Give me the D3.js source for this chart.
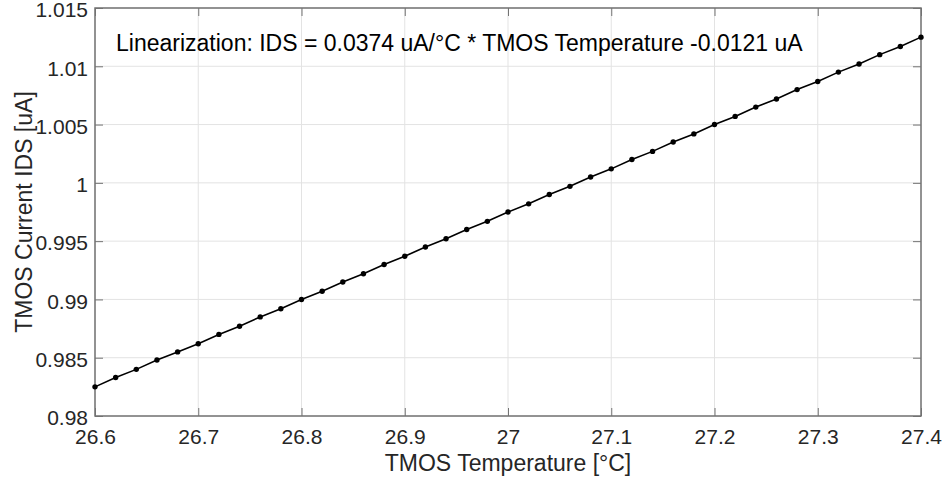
<!DOCTYPE html>
<html>
<head>
<meta charset="utf-8">
<script src="https://cdn.jsdelivr.net/npm/d3@7"></script>
<style>
  html, body { margin: 0; padding: 0; background: #fff; }
  svg { display: block; font-family: "Liberation Sans", Arial, Helvetica, sans-serif; }
</style>
</head>
<body>
<svg id="chart" width="945" height="484"></svg>
<script>
// Data
const temperature = [
  26.60, 26.62, 26.64, 26.66, 26.68, 26.70, 26.72, 26.74, 26.76, 26.78,
  26.80, 26.82, 26.84, 26.86, 26.88, 26.90, 26.92, 26.94, 26.96, 26.98,
  27.00, 27.02, 27.04, 27.06, 27.08, 27.10, 27.12, 27.14, 27.16, 27.18,
  27.20, 27.22, 27.24, 27.26, 27.28, 27.30, 27.32, 27.34, 27.36, 27.38,
  27.40
];
const currentIDS = [
  0.9825, 0.9833, 0.9840, 0.9848, 0.9855, 0.9862, 0.9870, 0.9877, 0.9885, 0.9892,
  0.9900, 0.9907, 0.9915, 0.9922, 0.9930, 0.9937, 0.9945, 0.9952, 0.9960, 0.9967,
  0.9975, 0.9982, 0.9990, 0.9997, 1.0005, 1.0012, 1.0020, 1.0027, 1.0035, 1.0042,
  1.0050, 1.0057, 1.0065, 1.0072, 1.0080, 1.0087, 1.0095, 1.0102, 1.0110, 1.0117,
  1.0125
];
const xTicks = [26.6, 26.7, 26.8, 26.9, 27.0, 27.1, 27.2, 27.3, 27.4];
const xTickLabels = ["26.6", "26.7", "26.8", "26.9", "27", "27.1", "27.2", "27.3", "27.4"];
const yTicks = [0.98, 0.985, 0.99, 0.995, 1.0, 1.005, 1.01, 1.015];
const yTickLabels = ["0.98", "0.985", "0.99", "0.995", "1", "1.005", "1.01", "1.015"];
const xLabel = "TMOS Temperature [°C]";
const yLabel = "TMOS Current IDS [uA]";
const annotation = "Linearization: IDS = 0.0374 uA/°C * TMOS Temperature -0.0121 uA";

const svg = d3.select("#chart");
const margin = { left: 95, top: 8, right: 24, bottom: 68 };
const W = 945, H = 484;
const innerW = W - margin.left - margin.right;
const innerH = H - margin.top - margin.bottom;

const x = d3.scaleLinear().domain([26.6, 27.4]).range([0, innerW]);
const y = d3.scaleLinear().domain([0.98, 1.015]).range([innerH, 0]);

const g = svg.append("g").attr("transform", `translate(${margin.left},${margin.top})`);

// Grid
g.append("g").selectAll("line").data(xTicks).join("line")
  .attr("x1", d => x(d)).attr("x2", d => x(d))
  .attr("y1", 0).attr("y2", innerH)
  .attr("stroke", "#e3e3e3").attr("stroke-width", 1);
g.append("g").selectAll("line").data(yTicks).join("line")
  .attr("y1", d => y(d)).attr("y2", d => y(d))
  .attr("x1", 0).attr("x2", innerW)
  .attr("stroke", "#e3e3e3").attr("stroke-width", 1);

const axisColor = "#262626";
const boxColor = "#737373";
const tickFont = "21px";
const fontFam = "'Liberation Sans', Arial, sans-serif";

// Bottom axis
const xAxis = d3.axisBottom(x).tickValues(xTicks).tickFormat((d, i) => xTickLabels[i])
  .tickSizeInner(-8).tickSizeOuter(0).tickPadding(13);
const gx = g.append("g").attr("transform", `translate(0,${innerH})`).call(xAxis);
gx.select(".domain").remove();
gx.selectAll(".tick line").attr("stroke", boxColor);
gx.selectAll(".tick text").attr("fill", axisColor).style("font-size", tickFont)
  .style("font-family", fontFam);

// Top ticks
const xAxisTop = d3.axisTop(x).tickValues(xTicks).tickFormat("").tickSizeInner(-8).tickSizeOuter(0);
const gxt = g.append("g").call(xAxisTop);
gxt.select(".domain").remove();
gxt.selectAll(".tick line").attr("stroke", boxColor);

// Left axis
const yAxis = d3.axisLeft(y).tickValues(yTicks).tickFormat((d, i) => yTickLabels[i])
  .tickSizeInner(-8).tickSizeOuter(0).tickPadding(7);
const gy = g.append("g").call(yAxis);
gy.select(".domain").remove();
gy.selectAll(".tick line").attr("stroke", boxColor);
gy.selectAll(".tick text").attr("fill", axisColor).style("font-size", tickFont)
  .style("font-family", fontFam).attr("dy", "0.42em");

// Right ticks
const yAxisRight = d3.axisRight(y).tickValues(yTicks).tickFormat("").tickSizeInner(-8).tickSizeOuter(0);
const gyr = g.append("g").attr("transform", `translate(${innerW},0)`).call(yAxisRight);
gyr.select(".domain").remove();
gyr.selectAll(".tick line").attr("stroke", boxColor);

// Box
g.append("rect").attr("x", 0).attr("y", 0).attr("width", innerW).attr("height", innerH)
  .attr("fill", "none").attr("stroke", boxColor).attr("stroke-width", 1.5);

// Line + markers
const pts = temperature.map((t, i) => [t, currentIDS[i]]);
const line = d3.line().x(d => x(d[0])).y(d => y(d[1]));
g.append("path").datum(pts).attr("d", line)
  .attr("fill", "none").attr("stroke", "#000").attr("stroke-width", 1.6);
g.append("g").selectAll("circle").data(pts).join("circle")
  .attr("cx", d => x(d[0])).attr("cy", d => y(d[1])).attr("r", 2.7).attr("fill", "#000");

// Annotation
svg.append("text").attr("x", 116).attr("y", 51)
  .attr("fill", "#000").style("font-size", "23px").text(annotation);

// Axis labels
svg.append("text").attr("x", margin.left + innerW / 2).attr("y", 471)
  .attr("text-anchor", "middle").attr("fill", axisColor).style("font-size", "23px").text(xLabel);
svg.append("text").attr("transform", `translate(32,${margin.top + innerH / 2}) rotate(-90)`)
  .attr("text-anchor", "middle").attr("fill", axisColor).style("font-size", "23px").text(yLabel);
</script>
</body>
</html>
